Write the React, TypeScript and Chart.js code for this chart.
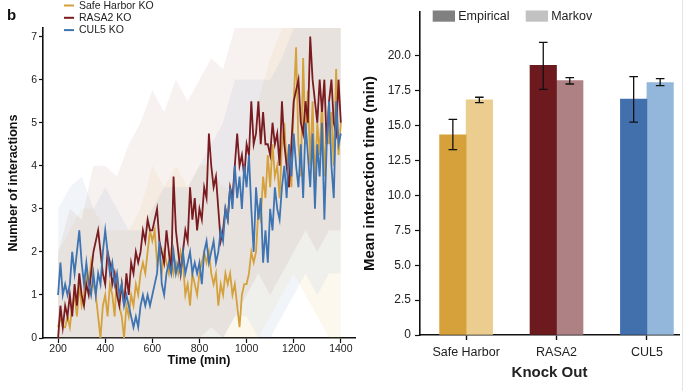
import React, { useEffect, useRef } from 'react';
import { Chart, registerables } from 'chart.js';

Chart.register(...registerables);

const FONT = '"Liberation Sans", Arial, Helvetica, sans-serif';

// ---------- Left panel data ----------
const seriesNames = ['Safe Harbor KO', 'RASA2 KO', 'CUL5 KO'];
const T_START = 200;
const T_STEP = 10;
const safeHarbor = [
  0.25, 0.5, 0.25, 0.25, 0.5, 0.25, 0.75, 1.0, 0.5, 1.25,
  0.75, 1.0, 1.5, 1.25, 1.75, 1.25, 1.0, 0.5, 0.0, 0.75,
  1.0, 0.5, 1.25, 1.0, 0.5, 1.5, 0.75, 0.5, 0.0, 0.75,
  0.5, 1.0, 0.75, 1.25, 1.0, 1.5, 1.75, 1.5, 2.0, 2.5,
  2.25, 2.5, 1.75, 2.0, 1.5, 2.0, 1.75, 1.5, 2.0, 1.5,
  1.75, 1.5, 2.0, 1.75, 1.0, 1.25, 0.75, 1.5, 1.25, 1.0,
  1.5, 1.75, 2.0, 1.75, 2.0, 1.5, 1.25, 1.5, 0.75, 1.25,
  1.0, 1.5, 1.25, 1.5, 1.0, 1.25, 0.75, 0.25, 1.0, 1.25,
  1.25, 1.5, 2.0, 1.75, 2.0, 3.0, 2.75, 3.75, 3.25, 4.25,
  3.5, 4.5, 3.75, 4.0, 3.25, 4.5, 5.0, 4.0, 4.5, 3.5,
  5.5, 6.75, 4.5, 3.75, 6.5, 4.5, 5.75, 4.0, 5.5, 3.5,
  5.0, 4.25, 5.5, 3.75, 5.0, 4.5, 5.25, 4.0, 6.25, 4.25, 5.0,
];
const rasa2 = [
  0, 0.75, 0.25, 0.75, 0.5, 1.0, 0.5, 1.25, 0.75, 1.5,
  1.0, 0.75, 1.25, 1.0, 1.5, 2.0, 2.25, 2.5, 2.0, 1.5,
  1.25, 2.0, 1.75, 1.25, 1.5, 1.0, 0.75, 1.25, 0.75, 1.5,
  1.0, 1.75, 1.5, 2.0, 1.75, 2.0, 2.5, 2.25, 2.75, 2.5,
  2.5, 2.75, 3.0, 2.25, 2.0, 1.75, 2.5, 2.0, 1.5, 3.75,
  2.5, 2.0, 1.5, 2.0, 2.5, 2.25, 3.5, 2.75, 3.25, 2.5,
  3.0, 2.75, 3.5, 3.25, 4.75, 4.0, 3.5, 3.75, 3.0, 2.25,
  2.5, 3.0, 2.75, 3.5, 3.25, 4.0, 4.75, 4.0, 4.25, 3.75,
  4.5, 4.25, 5.5, 4.5, 4.75, 5.5, 4.5, 5.25, 4.5, 4.5,
  4.25, 5.0, 4.5, 4.75, 4.0, 5.5, 4.5, 4.0, 3.5, 4.5,
  5.5, 5.75, 6.0, 5.0, 4.75, 5.5, 5.0, 7.0, 6.0, 5.5,
  5.0, 6.0, 5.25, 6.0, 4.5, 5.5, 6.0, 5.0, 4.75, 6.0, 5.0,
];
const cul5 = [
  1.0, 1.75, 1.0, 1.25, 1.0, 1.25, 2.0, 1.5, 2.0, 2.5,
  1.75, 1.25, 1.75, 1.25, 1.0, 1.5, 1.0, 1.5, 1.25, 2.0,
  2.5, 2.0, 1.5, 1.75, 1.25, 1.5, 1.0, 1.25, 0.75, 1.0,
  0.75, 0.5, 0.25, 0.5, 0.25, 0.75, 1.0, 0.75, 1.0, 0.75,
  1.0, 1.25, 1.5, 2.25, 1.25, 1.0, 1.5, 1.75, 1.5, 2.0,
  1.5, 1.75, 1.5, 2.0, 1.5, 1.75, 2.0, 1.5, 1.75, 1.5,
  1.75, 1.25, 2.0, 2.25, 1.75, 2.0, 2.25, 1.75, 2.0, 2.5,
  2.25, 3.0, 2.75, 3.5, 3.0, 4.0, 3.25, 3.75, 3.0, 4.0,
  3.5, 4.25, 3.0, 2.0, 3.5, 2.75, 3.25, 1.75, 2.5, 1.75,
  3.0, 2.5, 3.5, 3.0, 2.75, 3.5, 4.0, 3.25, 4.5, 3.75,
  4.75, 4.0, 3.5, 4.5, 3.25, 5.0, 4.25, 3.5, 4.75, 3.0,
  4.5, 3.75, 5.0, 2.75, 4.5, 5.5, 4.0, 3.25, 5.5, 4.5, 4.75,
];
const BAND_START = 200;
const BAND_STEP = 50;
const safeHarborUpper = [2.0, 2.5, 3.0, 3.0, 2.5, 2.5, 2.5, 3.0, 4.0, 3.5, 4.0, 3.5, 4.0, 4.0, 3.5, 3.5, 4.0, 5.5, 6.5, 7.2, 7.2, 7.2, 7.2, 7.2, 7.2];
const safeHarborLower = [0, 0, 0, 0, 0, 0, 0, 0, 0, 0, 0, 0, 0, 0, 0, 0, 0, 0, 0.5, 1.0, 1.5, 1.0, 0.5, 0, 0];
const rasa2Upper = [2.0, 3.0, 2.75, 4.0, 4.0, 3.75, 4.5, 5.0, 5.75, 5.25, 6.0, 5.5, 6.0, 6.5, 6.25, 7.2, 7.2, 7.2, 7.2, 7.2, 7.2, 7.2, 7.2, 7.2, 7.2];
const rasa2Lower = [0, 0, 0, 0, 0, 0, 0, 0, 0, 0, 0, 0, 0, 0.25, 0, 0.5, 1.0, 1.5, 1.0, 1.5, 2.0, 2.5, 2.0, 2.5, 2.5];
const cul5Upper = [3.0, 3.5, 3.75, 3.0, 3.5, 3.0, 2.5, 2.5, 3.0, 3.5, 3.5, 3.5, 4.0, 4.5, 5.0, 6.0, 6.0, 6.0, 6.0, 6.5, 7.2, 7.2, 7.2, 7.2, 7.2];
const cul5Lower = [0, 0, 0, 0, 0, 0, 0, 0, 0, 0, 0, 0, 0, 0, 0, 0.5, 0.5, 0, 0, 0.5, 1.0, 1.5, 1.0, 1.5, 1.5];
const xTicksLeft = [200, 400, 600, 800, 1000, 1200, 1400];
const yTicksLeft = [0, 1, 2, 3, 4, 5, 6, 7];

// ---------- Right panel data ----------
const categories = ['Safe Harbor', 'RASA2', 'CUL5'];
const groupNames = ['Empirical', 'Markov'];
const empiricalMean = [14.35, 19.33, 16.9];
const empiricalLow = [13.28, 17.61, 15.25];
const empiricalHigh = [15.46, 20.98, 18.52];
const markovMean = [16.85, 18.24, 18.09];
const markovLow = [16.65, 17.99, 17.87];
const markovHigh = [17.04, 18.45, 18.37];
const yTicksRight = [0, 2.5, 5, 7.5, 10, 12.5, 15, 17.5, 20];

// ---------- styles ----------
const lineColors = ['#D4A13C', '#7A1B20', '#3F74B2'];
const bandColors = ['rgba(230,185,90,0.10)', 'rgba(150,80,70,0.08)', 'rgba(80,130,190,0.08)'];
const empiricalColors = ['#D6A03A', '#6D1A1F', '#4170AD'];
const markovColors = ['#EACD8F', '#AE8184', '#93B7DA'];
const legendGrays = ['#808080', '#C2C2C2'];

const toPts = (start: number, step: number, arr: number[]) =>
  arr.map((y, i) => ({ x: start + i * step, y }));

const leftLegendPlugin = {
  id: 'leftLegend',
  afterDraw(chart: any) {
    const ctx = chart.ctx;
    ctx.save();
    ctx.fillStyle = '#111';
    ctx.font = `bold 15px ${FONT}`;
    ctx.textBaseline = 'alphabetic';
    ctx.textAlign = 'left';
    ctx.fillText('b', 7, 20);
    ctx.font = `10.5px ${FONT}`;
    ctx.textBaseline = 'middle';
    seriesNames.forEach((name, i) => {
      const y = 5.5 + i * 12.3;
      ctx.strokeStyle = lineColors[i];
      ctx.lineWidth = 2;
      ctx.beginPath();
      ctx.moveTo(64, y);
      ctx.lineTo(74, y);
      ctx.stroke();
      ctx.fillStyle = '#222';
      ctx.fillText(name, 79, y + 0.5);
    });
    ctx.restore();
  },
};

const rightLegendPlugin = {
  id: 'rightLegend',
  afterDraw(chart: any) {
    const ctx = chart.ctx;
    ctx.save();
    ctx.font = `12.5px ${FONT}`;
    ctx.textBaseline = 'middle';
    ctx.textAlign = 'left';
    const xs = [77.7, 170.7];
    groupNames.forEach((name, i) => {
      ctx.fillStyle = legendGrays[i];
      ctx.fillRect(xs[i], 10.5, 22.3, 11.2);
      ctx.fillStyle = '#222';
      ctx.fillText(name, xs[i] + 25.5, 16.5);
    });
    ctx.restore();
  },
};

const errorBarPlugin = {
  id: 'errorBars',
  afterDatasetsDraw(chart: any) {
    const ctx = chart.ctx;
    const yScale = chart.scales.y;
    const lows = [empiricalLow, markovLow];
    const highs = [empiricalHigh, markovHigh];
    ctx.save();
    ctx.strokeStyle = '#111';
    ctx.lineWidth = 1.3;
    [0, 1].forEach((d) => {
      const meta = chart.getDatasetMeta(d);
      meta.data.forEach((bar: any, i: number) => {
        const x = bar.x;
        const yl = yScale.getPixelForValue(lows[d][i]);
        const yh = yScale.getPixelForValue(highs[d][i]);
        ctx.beginPath();
        ctx.moveTo(x, yl);
        ctx.lineTo(x, yh);
        ctx.moveTo(x - 4.3, yl);
        ctx.lineTo(x + 4.3, yl);
        ctx.moveTo(x - 4.3, yh);
        ctx.lineTo(x + 4.3, yh);
        ctx.stroke();
      });
    });
    ctx.restore();
  },
};

function LeftChart() {
  const ref = useRef<HTMLCanvasElement>(null);
  useEffect(() => {
    const means = [safeHarbor, rasa2, cul5];
    const uppers = [safeHarborUpper, rasa2Upper, cul5Upper];
    const lowers = [safeHarborLower, rasa2Lower, cul5Lower];
    const lineOrder = [2, 1, 0]; // CUL5 on top, then RASA2, then Safe Harbor
    const datasets: any[] = [];
    lineOrder.forEach((k) => {
      datasets.push({
        label: seriesNames[k],
        data: toPts(T_START, T_STEP, means[k]),
        borderColor: lineColors[k],
        borderWidth: 1.8,
        pointRadius: 0,
        fill: false,
        tension: 0,
      });
    });
    [1, 2, 0].forEach((k) => {
      datasets.push({
        label: seriesNames[k] + ' upper',
        data: toPts(BAND_START, BAND_STEP, uppers[k]),
        borderColor: 'rgba(0,0,0,0)',
        borderWidth: 0,
        pointRadius: 0,
        backgroundColor: bandColors[k],
        fill: '+1',
      });
      datasets.push({
        label: seriesNames[k] + ' lower',
        data: toPts(BAND_START, BAND_STEP, lowers[k]),
        borderColor: 'rgba(0,0,0,0)',
        borderWidth: 0,
        pointRadius: 0,
        fill: false,
      });
    });
    const chart = new Chart(ref.current!, {
      type: 'line',
      data: { datasets },
      plugins: [leftLegendPlugin],
      options: {
        animation: false,
        responsive: false,
        events: [],
        layout: { padding: { left: 0, top: 28, right: 5, bottom: 0 } },
        plugins: { legend: { display: false }, tooltip: { enabled: false } },
        scales: {
          x: {
            type: 'linear',
            min: 136,
            max: 1460,
            afterBuildTicks: (s: any) => {
              s.ticks = xTicksLeft.map((v) => ({ value: v }));
            },
            afterFit: (s: any) => {
              s.height = 53;
            },
            ticks: {
              font: { family: FONT, size: 10.5 },
              color: '#222',
              padding: 0,
              maxRotation: 0,
              autoSkip: false,
              callback: (v: any) => String(v),
            },
            grid: { display: true, drawOnChartArea: false, drawTicks: true, tickLength: 5, tickColor: '#111', tickWidth: 1.2 },
            border: { display: true, color: '#111', width: 1.6 },
            title: {
              display: true,
              text: 'Time (min)',
              color: '#111',
              font: { family: FONT, size: 12.5, weight: 'bold' },
              padding: { top: 0, bottom: 22.5 },
            },
          },
          y: {
            type: 'linear',
            min: 0,
            max: 7.2,
            afterBuildTicks: (s: any) => {
              s.ticks = yTicksLeft.map((v) => ({ value: v }));
            },
            afterFit: (s: any) => {
              s.width = 43;
            },
            ticks: { font: { family: FONT, size: 10.5 }, color: '#222', padding: 2, callback: (v: any) => String(v) },
            grid: { display: true, drawOnChartArea: false, drawTicks: true, tickLength: 4, tickColor: '#111', tickWidth: 1.2 },
            border: { display: true, color: '#111', width: 1.6 },
            title: {
              display: true,
              text: 'Number of interactions',
              color: '#111',
              font: { family: FONT, size: 12.5, weight: 'bold' },
              padding: { top: 6.5, bottom: 0 },
            },
          },
        },
      } as any,
    });
    return () => chart.destroy();
  }, []);
  return (
    <canvas
      ref={ref}
      width={360}
      height={391}
      style={{ position: 'absolute', left: 0, top: 0, width: 360, height: 391 }}
    />
  );
}

function RightChart() {
  const ref = useRef<HTMLCanvasElement>(null);
  useEffect(() => {
    const chart = new Chart(ref.current!, {
      type: 'bar',
      data: {
        datasets: [
          {
            label: groupNames[0],
            data: empiricalMean.map((y, i) => ({ x: i, y })),
            backgroundColor: empiricalColors,
            borderWidth: 0,
            barThickness: 26.5,
          },
          {
            label: groupNames[1],
            data: markovMean.map((y, i) => ({ x: i, y })),
            backgroundColor: markovColors,
            borderWidth: 0,
            barThickness: 26.5,
          },
        ],
      },
      plugins: [errorBarPlugin, rightLegendPlugin],
      options: {
        animation: false,
        responsive: false,
        events: [],
        layout: { padding: { left: 0, top: 12, right: 7, bottom: 0 } },
        plugins: { legend: { display: false }, tooltip: { enabled: false } },
        scales: {
          x: {
            type: 'linear',
            offset: false,
            min: -0.51,
            max: 2.355,
            afterBuildTicks: (s: any) => {
              s.ticks = categories.map((_, i) => ({ value: i }));
            },
            afterFit: (s: any) => {
              s.height = 56;
            },
            ticks: {
              font: { family: FONT, size: 12.5 },
              color: '#222',
              padding: 5.5,
              maxRotation: 0,
              autoSkip: false,
              callback: (v: any) => categories[Math.round(Number(v))] ?? '',
            },
            grid: { display: true, offset: false, drawOnChartArea: false, drawTicks: true, tickLength: 5, tickColor: '#111', tickWidth: 1.4 },
            border: { display: true, color: '#111', width: 1.6 },
            title: {
              display: true,
              text: 'Knock Out',
              color: '#222',
              font: { family: FONT, size: 15, weight: 'bold' },
              padding: { top: 0, bottom: 9 },
            },
          },
          y: {
            type: 'linear',
            min: 0,
            max: 23.15,
            afterBuildTicks: (s: any) => {
              s.ticks = yTicksRight.map((v) => ({ value: v }));
            },
            afterFit: (s: any) => {
              s.width = 65;
            },
            ticks: {
              font: { family: FONT, size: 12 },
              color: '#222',
              padding: 4,
              callback: (v: any) => (Number(v) === 0 ? '0' : Number(v).toFixed(1)),
            },
            grid: { display: true, drawOnChartArea: false, drawTicks: true, tickLength: 5, tickColor: '#111', tickWidth: 1.2 },
            border: { display: true, color: '#111', width: 1.6 },
            title: {
              display: true,
              text: 'Mean interaction time (min)',
              color: '#111',
              font: { family: FONT, size: 15, weight: 'bold' },
              padding: { top: 6, bottom: 0 },
            },
          },
        },
      } as any,
    });
    return () => chart.destroy();
  }, []);
  return (
    <canvas
      ref={ref}
      width={331}
      height={391}
      style={{ position: 'absolute', left: 355, top: 0, width: 331, height: 391 }}
    />
  );
}

export default function App() {
  return (
    <div
      style={{
        position: 'absolute',
        left: 0,
        top: 0,
        width: 686,
        height: 391,
        background: '#fff',
        overflow: 'hidden',
      }}
    >
      <LeftChart />
      <RightChart />
      <div
        style={{
          position: 'absolute',
          left: 682,
          top: 0,
          width: 1,
          height: 391,
          background: '#e4e4e4',
        }}
      />
    </div>
  );
}
